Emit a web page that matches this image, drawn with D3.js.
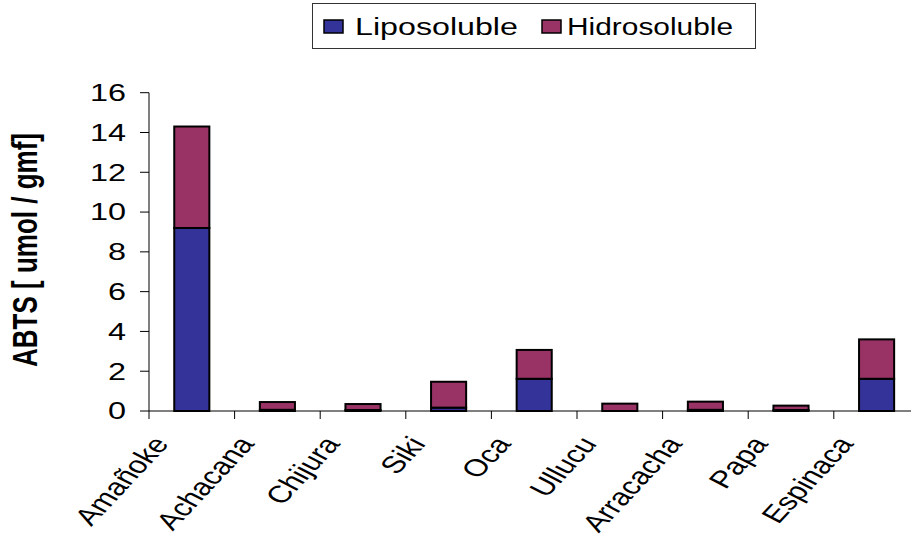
<!DOCTYPE html>
<html>
<head>
<meta charset="utf-8">
<script src="https://cdn.jsdelivr.net/npm/d3@7"></script>
<style>
  html, body { margin: 0; padding: 0; background: #fff; }
  svg { display: block; }
  text { font-family: "Liberation Sans", Arial, sans-serif; fill: #000; }
</style>
</head>
<body>
<div id="chart"></div>
<script>
const categories = ["Amañoke", "Achacana", "Chijura", "Siki", "Oca", "Ullucu", "Arracacha", "Papa", "Espinaca"];
const liposoluble = [9.2, 0.06, 0.05, 0.17, 1.62, 0, 0.06, 0.05, 1.62];
const hidrosoluble = [5.1, 0.39, 0.30, 1.30, 1.45, 0.37, 0.41, 0.22, 1.98];
const seriesNames = ["Liposoluble", "Hidrosoluble"];
const seriesColors = ["#333399", "#993366"];
const yTicks = [0, 2, 4, 6, 8, 10, 12, 14, 16];
const yTitle = "ABTS [ umol / gmf]";

const W = 911, H = 542;
const SX = 1.35; // horizontal stretch of text in the reference
const plot = { left: 149, top: 92.7, bottom: 411, right: 919.4 };

const svg = d3.select("#chart").append("svg").attr("width", W).attr("height", H);
svg.append("rect").attr("width", W).attr("height", H).attr("fill", "#fff");

const x = d3.scaleBand().domain(categories).range([plot.left, plot.right])
  .paddingInner(0.59).paddingOuter(0.295);
const y = d3.scaleLinear().domain([0, 16]).range([plot.bottom, plot.top]);

const rows = categories.map((c, i) => ({ cat: c, Liposoluble: liposoluble[i], Hidrosoluble: hidrosoluble[i] }));
const stack = d3.stack().keys(seriesNames)(rows);

// bars
stack.forEach((layer, si) => {
  svg.append("g").selectAll("rect").data(layer).join("rect")
    .attr("x", d => x(d.data.cat))
    .attr("width", x.bandwidth())
    .attr("y", d => y(d[1]))
    .attr("height", d => Math.max(0, y(d[0]) - y(d[1])))
    .attr("fill", seriesColors[si])
    .attr("stroke", "#000")
    .attr("stroke-width", 2);
});

// y axis
const yAxis = svg.append("g");
yAxis.append("line").attr("x1", plot.left).attr("x2", plot.left)
  .attr("y1", y(16)).attr("y2", y(0)).attr("stroke", "#000").attr("stroke-width", 1);
yAxis.selectAll("line.tick").data(yTicks).join("line").attr("class", "tick")
  .attr("x1", plot.left - 9).attr("x2", plot.left)
  .attr("y1", d => y(d)).attr("y2", d => y(d))
  .attr("stroke", "#000").attr("stroke-width", 1);
yAxis.selectAll("text").data(yTicks).join("text")
  .attr("transform", d => `translate(126,${y(d)}) scale(${SX},1)`)
  .attr("text-anchor", "end").attr("dy", "0.35em")
  .attr("font-size", 24)
  .text(d => d);

// x axis
const xAxis = svg.append("g");
xAxis.append("line").attr("x1", plot.left).attr("x2", W)
  .attr("y1", plot.bottom).attr("y2", plot.bottom).attr("stroke", "#000").attr("stroke-width", 1);
const boundaries = categories.map(c => x(c) - x.step() * x.paddingInner() / 2);
xAxis.selectAll("line.tick").data(boundaries).join("line").attr("class", "tick")
  .attr("x1", d => d).attr("x2", d => d)
  .attr("y1", plot.bottom).attr("y2", plot.bottom + 8)
  .attr("stroke", "#000").attr("stroke-width", 1);
xAxis.selectAll("text").data(categories).join("text")
  .attr("transform", d => `translate(${x(d) + x.bandwidth() / 2 - 22},${plot.bottom + 33}) scale(${SX},1) rotate(-55)`)
  .attr("text-anchor", "end")
  .attr("font-size", 24)
  .text(d => d);

// y title
svg.append("text")
  .attr("transform", `translate(37,250) scale(${SX},1) rotate(-90)`)
  .attr("text-anchor", "middle")
  .attr("font-size", 26).attr("font-weight", "bold")
  .text(yTitle);

// legend
const lg = svg.append("g");
lg.append("rect").attr("x", 312.5).attr("y", 3.5).attr("width", 443).attr("height", 45)
  .attr("fill", "#fff").attr("stroke", "#333").attr("stroke-width", 1);
const legendPos = [{ sq: 324, tx: 355, len: 120.7 }, { sq: 542, tx: 567, len: 123 }];
seriesNames.forEach((name, i) => {
  lg.append("rect").attr("x", legendPos[i].sq).attr("y", 20).attr("width", 19).attr("height", 13)
    .attr("fill", seriesColors[i]).attr("stroke", "#000").attr("stroke-width", 1.5);
  lg.append("text").attr("transform", `translate(${legendPos[i].tx},35) scale(${SX},1)`)
    .attr("font-size", 24)
    .attr("textLength", legendPos[i].len).attr("lengthAdjust", "spacingAndGlyphs")
    .text(name);
});
</script>
</body>
</html>
